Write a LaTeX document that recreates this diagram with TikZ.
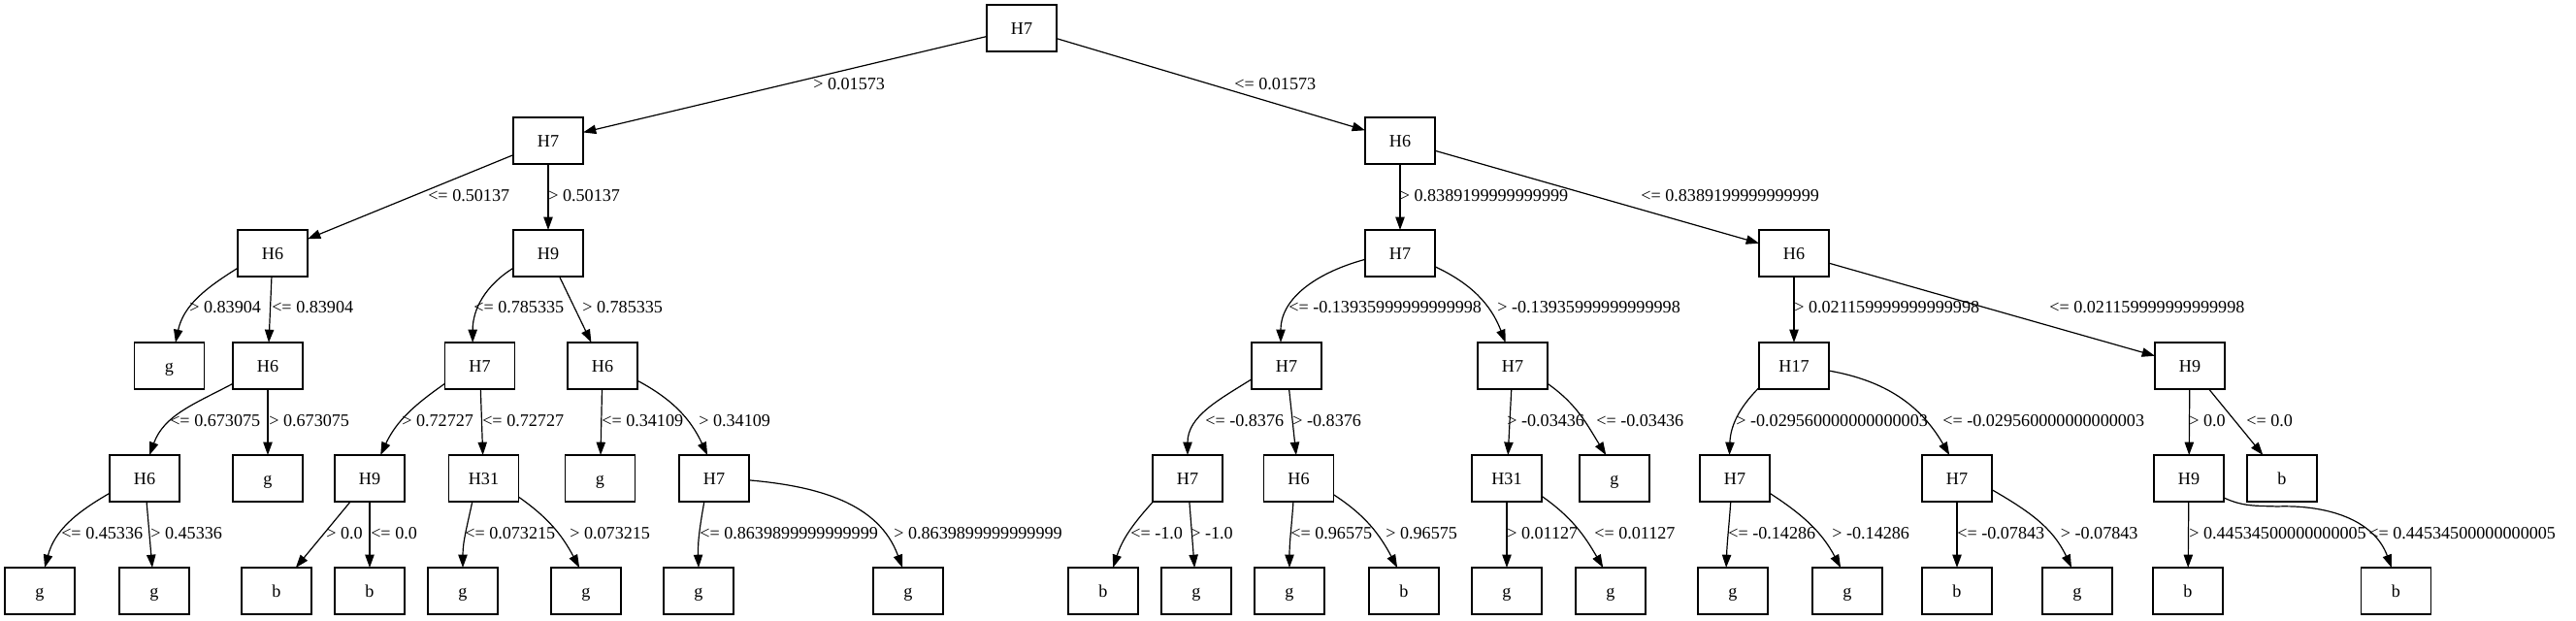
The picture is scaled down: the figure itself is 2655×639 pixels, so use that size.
\documentclass[tikz,border=0pt]{standalone}
\usepackage{fontspec}
\setmainfont{Liberation Serif}
\usetikzlibrary{arrows.meta}

\tikzset{
  box/.style = {draw, rectangle, line width = 0.9pt, minimum width = 54pt, minimum height = 36pt,
    inner sep = 0pt, outer sep = 0pt, text height = 9.4pt, text depth = 0pt,
    font = \fontsize{13.6}{16}\selectfont},
  edge/.style = {line width = 0.9pt, -{Triangle[length = 10pt, width = 7pt]}},
  cond/.style = {anchor = west, inner sep = 0pt, font = \fontsize{13.6}{16}\selectfont}
}

\begin{document}
\begin{tikzpicture}[x = 0.75pt, y = 0.75pt]
\useasboundingbox (0,0) rectangle (2655,-639);
% root
\node[box] (r) at (1053,-29) {H7};
% level 1
\node[box] (a) at (565,-145) {H7};
\node[box] (b) at (1443,-145) {H6};
% level 2
\node[box] (aa) at (281,-261) {H6};
\node[box] (ab) at (565,-261) {H9};
\node[box] (ba) at (1443,-261) {H7};
\node[box] (bb) at (1849,-261) {H6};
% level 3
\node[box] (aaa) at (174.5,-377) {g};
\node[box] (aab) at (276,-377) {H6};
\node[box] (aba) at (494.5,-377) {H7};
\node[box] (abb) at (621,-377) {H6};
\node[box] (baa) at (1326,-377) {H7};
\node[box] (bab) at (1559,-377) {H7};
\node[box] (bba) at (1849,-377) {H17};
\node[box] (bbb) at (2257,-377) {H9};
% level 4
\node[box] (aaba) at (149,-493) {H6};
\node[box] (aabb) at (276,-493) {g};
\node[box] (abaa) at (381,-493) {H9};
\node[box] (abab) at (498.5,-493) {H31};
\node[box] (abba) at (618.5,-493) {g};
\node[box] (abbb) at (736,-493) {H7};
\node[box] (baaa) at (1224,-493) {H7};
\node[box] (baab) at (1338.5,-493) {H6};
\node[box] (baba) at (1553,-493) {H31};
\node[box] (babb) at (1664,-493) {g};
\node[box] (bbaa) at (1788,-493) {H7};
\node[box] (bbab) at (2017,-493) {H7};
\node[box] (bbba) at (2256,-493) {H9};
\node[box] (bbbb) at (2352,-493) {b};
% level 5 (leaves)
\node[box] (aabaa) at (41,-609) {g};
\node[box] (aabab) at (159,-609) {g};
\node[box] (abaaa) at (285,-609) {b};
\node[box] (abaab) at (381,-609) {b};
\node[box] (ababa) at (477,-609) {g};
\node[box] (ababb) at (604,-609) {g};
\node[box] (abbba) at (720,-609) {g};
\node[box] (abbbb) at (936,-609) {g};
\node[box] (baaaa) at (1137,-609) {b};
\node[box] (baaab) at (1233,-609) {g};
\node[box] (baaba) at (1329,-609) {g};
\node[box] (baabb) at (1447,-609) {b};
\node[box] (babaa) at (1553,-609) {g};
\node[box] (babab) at (1660,-609) {g};
\node[box] (bbaaa) at (1786,-609) {g};
\node[box] (bbaab) at (1904,-609) {g};
\node[box] (bbaba) at (2017,-609) {b};
\node[box] (bbabb) at (2141,-609) {g};
\node[box] (bbbaa) at (2255,-609) {b};
\node[box] (bbbab) at (2469.5,-609) {b};

% straight edges
\draw[edge] (r) -- (a);
\draw[edge] (r) -- (b);
\draw[edge] (a) -- (aa);
\draw[edge] (a) -- (ab);
\draw[edge] (aa) -- (aab);
\draw[edge] (ab) -- (abb);
\draw[edge] (aab) -- (aabb);
\draw[edge] (aba) -- (abab);
\draw[edge] (abb) -- (abba);
\draw[edge] (aaba) -- (aabab);
\draw[edge] (abaa) -- (abaaa);
\draw[edge] (abaa) -- (abaab);
\draw[edge] (b) -- (ba);
\draw[edge] (b) -- (bb);
\draw[edge] (bb) -- (bba);
\draw[edge] (bb) -- (bbb);
\draw[edge] (baa) -- (baab);
\draw[edge] (bab) -- (baba);
\draw[edge] (bbb) -- (bbba);
\draw[edge] (bbb) -- (bbbb);
\draw[edge] (baaa) -- (baaab);
\draw[edge] (baba) -- (babaa);
\draw[edge] (bbab) -- (bbaba);
\draw[edge] (bbba) -- (bbbaa);

% curved edges
\draw[edge] (aa.203) to[out=212, in=78] (aaa.75);
\draw[edge] (ab.203) to[out=212, in=90] (aba.107);
\draw[edge] (aab.207) to[out=208, in=70] (aaba.78);
\draw[edge] (aba.207) to[out=215, in=65] (abaa.65);
\draw[edge] (abb.337) to[out=-28, in=115] (abbb.106);
\draw[edge] (aaba.203) to[out=210, in=75] (aabaa.78);
\draw[edge] (abab.244) to[out=258, in=90] (ababa.north);
\draw[edge] (abab.332) to[out=-35, in=118] (ababb.106);
\draw[edge] (abbb.247) to[out=260, in=92] (abbba.north);
\draw[edge] (abbb.357) to[out=-5, in=110] (abbbb.104);
\draw[edge] (ba.190) to[out=195, in=90] (baa.104);
\draw[edge] (ba.339) to[out=-25, in=111] (bab.107);
\draw[edge] (baa.201) to[out=212, in=90] (baaa.north);
\draw[edge] (bab.333) to[out=-35, in=122] (babb.110);
\draw[edge] (bba.212) to[out=225, in=88] (bbaa.103);
\draw[edge] (bba.352) to[out=-10, in=120] (bbab.108);
\draw[edge] (baaa.214) to[out=228, in=72] (baaaa.67);
\draw[edge] (baab.257) to[out=266, in=90] (baaba.north);
\draw[edge] (baab.335) to[out=-33, in=118] (baabb.106);
\draw[edge] (baba.333) to[out=-35, in=120] (babab.108);
\draw[edge] (bbaa.260) to[out=266, in=88] (bbaaa.106);
\draw[edge] (bbaa.337) to[out=-33, in=118] (bbaab.106);
\draw[edge] (bbab.342) to[out=-30, in=115] (bbabb.104);
\draw[edge] (bbba.331) to[out=-25, in=178] ++(55,-9) to[out=2, in=110] (bbbab.101);

% split conditions
\node[cond] (c-a) at (838,-87) {> 0.01573};
\node[cond] (c-b) at (1272,-87) {<= 0.01573};
\node[cond] (c-aa) at (441,-202) {<= 0.50137};
\node[cond] (c-ab) at (565,-202) {> 0.50137};
\node[cond] (c-ba) at (1442.5,-202) {> 0.8389199999999999};
\node[cond] (c-bb) at (1691,-202) {<= 0.8389199999999999};
\node[cond] (c-aaa) at (195,-317) {> 0.83904};
\node[cond] (c-aab) at (280,-317) {<= 0.83904};
\node[cond] (c-aba) at (488,-317) {<= 0.785335};
\node[cond] (c-abb) at (600,-317) {> 0.785335};
\node[cond] (c-baa) at (1328,-317) {<= -0.13935999999999998};
\node[cond] (c-bab) at (1543,-317) {> -0.13935999999999998};
\node[cond] (c-bba) at (1849,-317) {> 0.021159999999999998};
\node[cond] (c-bbb) at (2112,-317) {<= 0.021159999999999998};
\node[cond] (c-aaba) at (175,-434) {<= 0.673075};
\node[cond] (c-aabb) at (277,-434) {> 0.673075};
\node[cond] (c-abaa) at (414,-434) {> 0.72727};
\node[cond] (c-abab) at (497,-434) {<= 0.72727};
\node[cond] (c-abba) at (620,-434) {<= 0.34109};
\node[cond] (c-abbb) at (720,-434) {> 0.34109};
\node[cond] (c-baaa) at (1242,-434) {<= -0.8376};
\node[cond] (c-baab) at (1332,-434) {> -0.8376};
\node[cond] (c-baba) at (1553,-434) {> -0.03436};
\node[cond] (c-babb) at (1645,-434) {<= -0.03436};
\node[cond] (c-bbaa) at (1789,-434) {> -0.029560000000000003};
\node[cond] (c-bbab) at (2002,-434) {<= -0.029560000000000003};
\node[cond] (c-bbba) at (2256,-434) {> 0.0};
\node[cond] (c-bbbb) at (2315,-434) {<= 0.0};
\node[cond] (c-aabaa) at (63,-550) {<= 0.45336};
\node[cond] (c-aabab) at (155,-550) {> 0.45336};
\node[cond] (c-abaaa) at (336,-550) {> 0.0};
\node[cond] (c-abaab) at (382,-550) {<= 0.0};
\node[cond] (c-ababa) at (479,-550) {<= 0.073215};
\node[cond] (c-ababb) at (587,-550) {> 0.073215};
\node[cond] (c-abbba) at (721,-550) {<= 0.8639899999999999};
\node[cond] (c-abbbb) at (921,-550) {> 0.8639899999999999};
\node[cond] (c-baaaa) at (1165,-550) {<= -1.0};
\node[cond] (c-baaab) at (1227,-550) {> -1.0};
\node[cond] (c-baaba) at (1330,-550) {<= 0.96575};
\node[cond] (c-baabb) at (1428,-550) {> 0.96575};
\node[cond] (c-babaa) at (1553,-550) {> 0.01127};
\node[cond] (c-babab) at (1643,-550) {<= 0.01127};
\node[cond] (c-bbaaa) at (1781,-550) {<= -0.14286};
\node[cond] (c-bbaab) at (1888,-550) {> -0.14286};
\node[cond] (c-bbaba) at (2017,-550) {<= -0.07843};
\node[cond] (c-bbabb) at (2123.5,-550) {> -0.07843};
\node[cond] (c-bbbaa) at (2256,-550) {> 0.44534500000000005};
\node[cond] (c-bbbab) at (2441,-550) {<= 0.44534500000000005};
\end{tikzpicture}
\end{document}
